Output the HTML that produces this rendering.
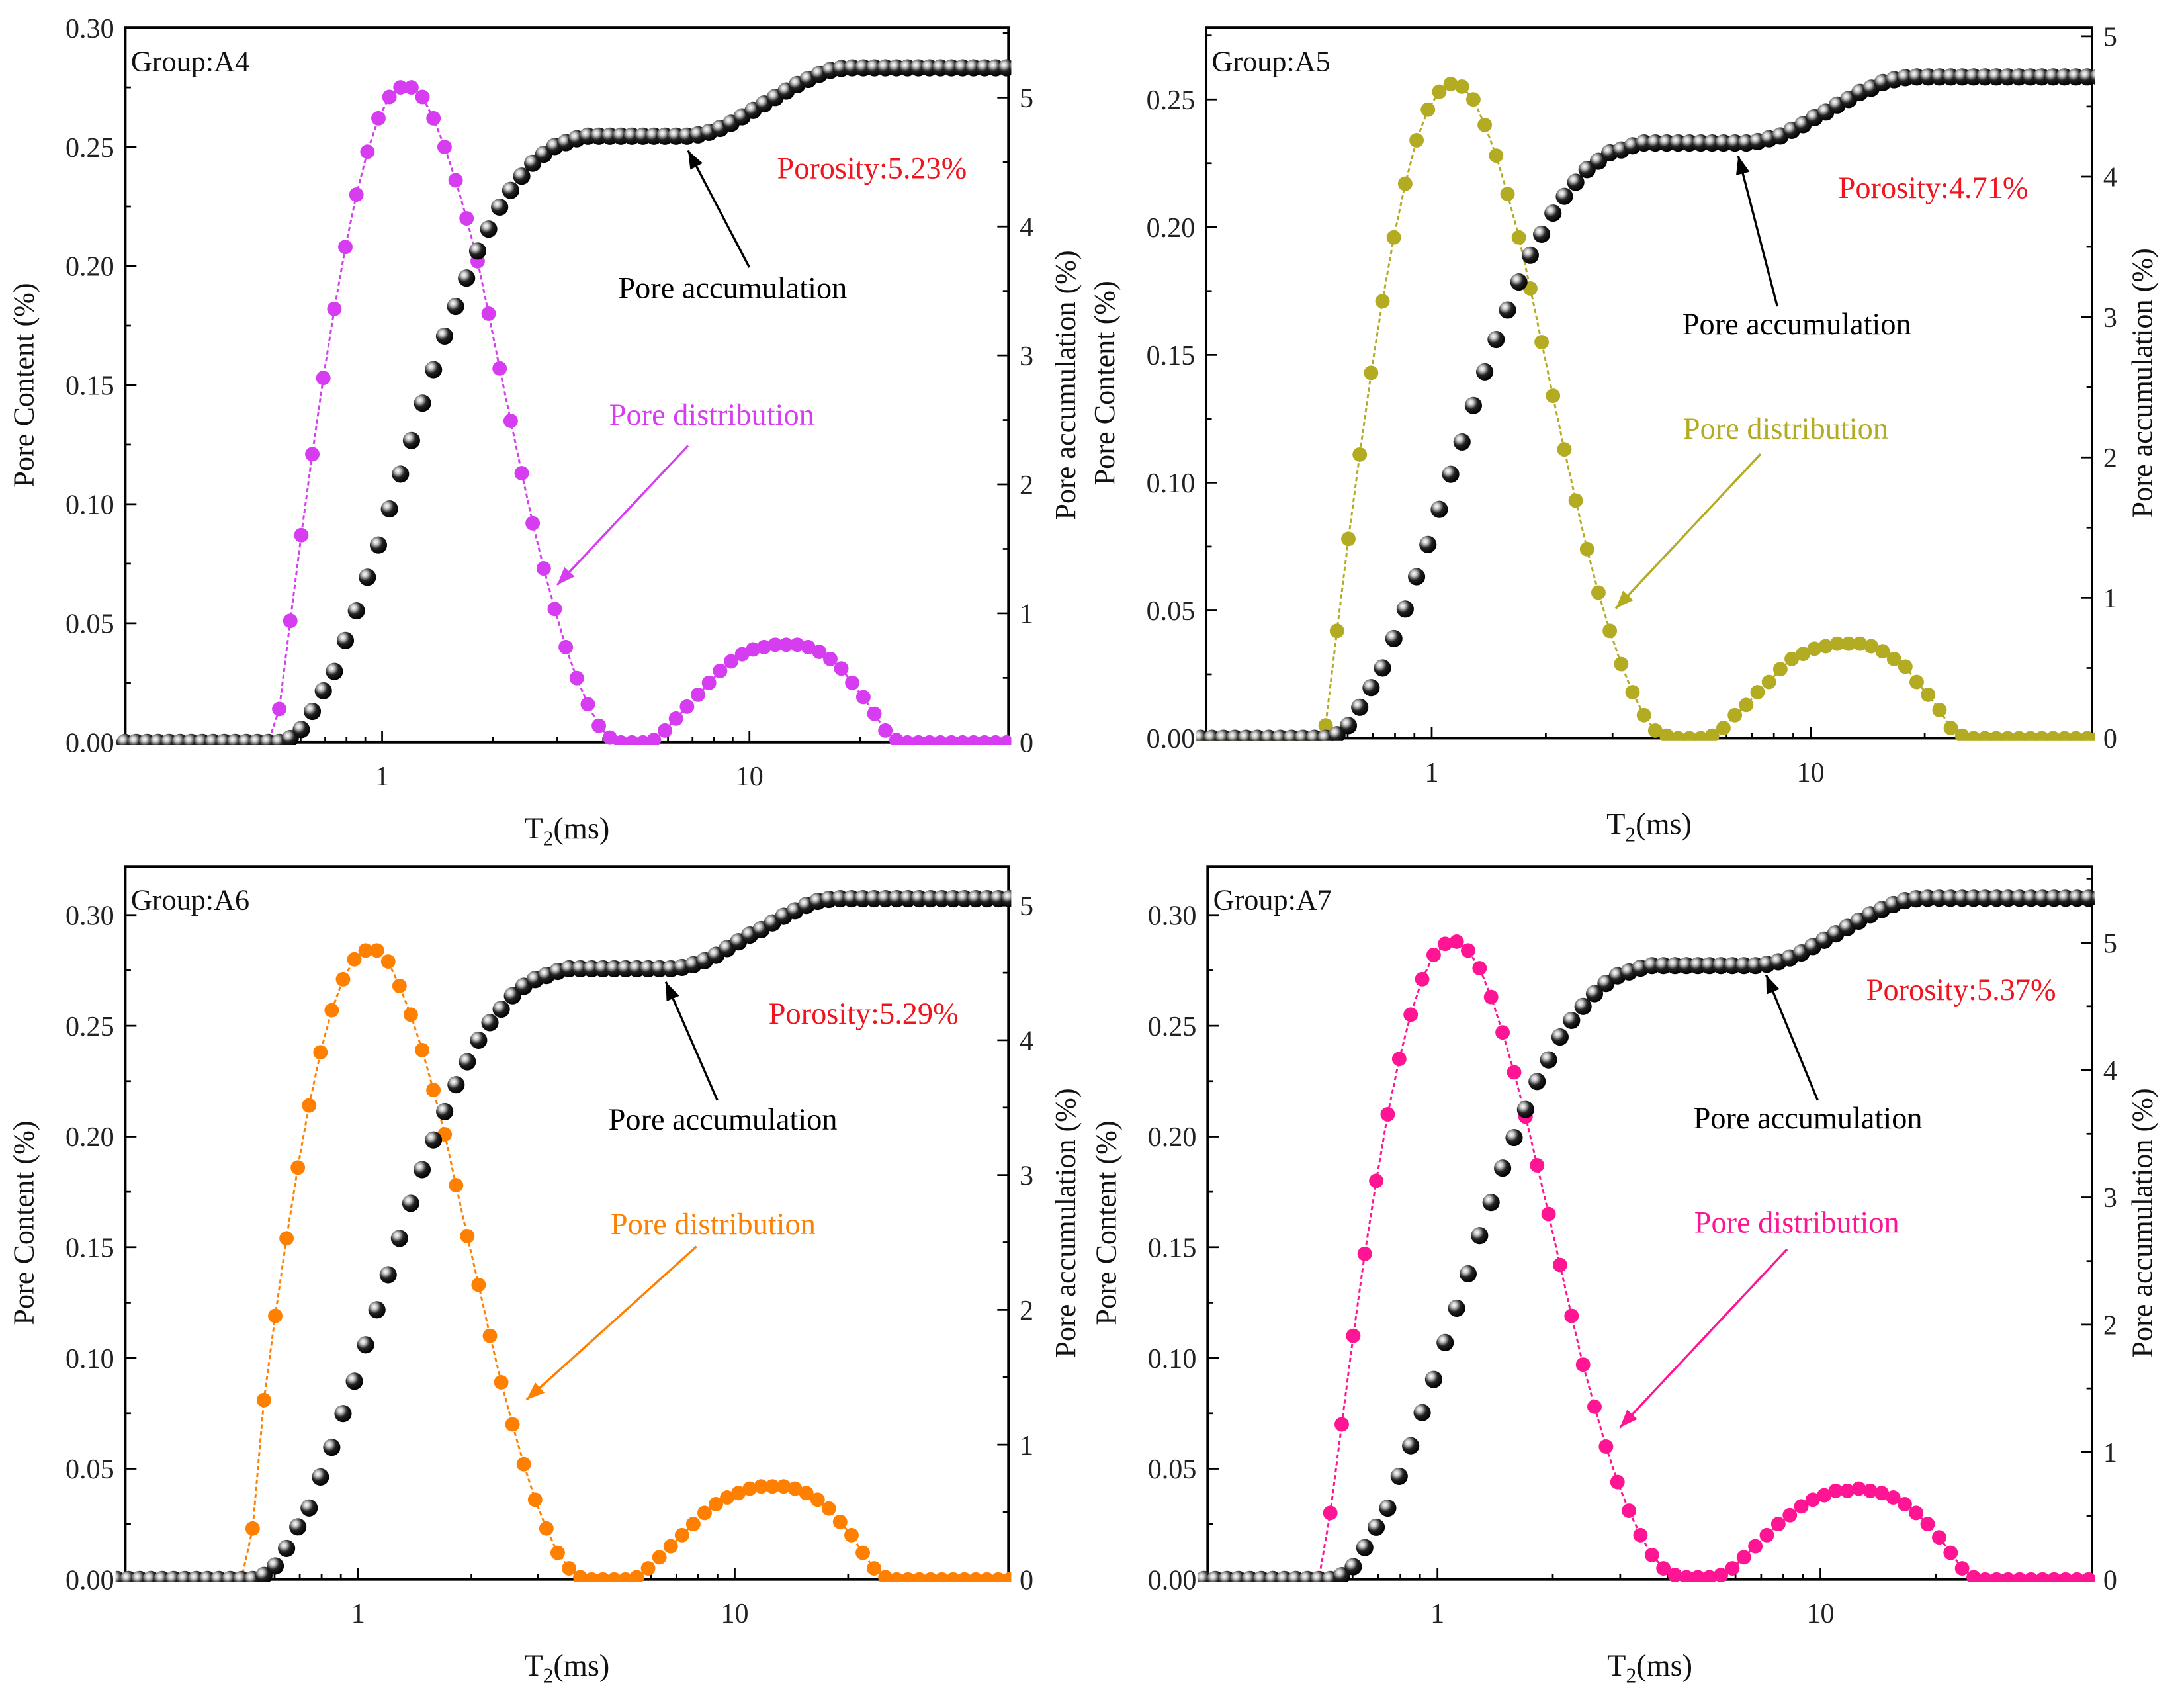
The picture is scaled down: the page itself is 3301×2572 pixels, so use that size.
<!DOCTYPE html>
<html><head><meta charset="utf-8">
<style>
html,body{margin:0;padding:0;background:#fff;}
svg{display:block;}
svg text{font-family:"Liberation Serif","Times New Roman",serif;}
</style></head>
<body>
<svg id="chart" width="3301" height="2572" viewBox="0 0 1568 1222" preserveAspectRatio="none" xmlns="http://www.w3.org/2000/svg" font-family="Liberation Serif, serif">
<defs>
<radialGradient id="ball" cx="0.35" cy="0.32" r="0.7">
<stop offset="0" stop-color="#ffffff"/><stop offset="0.22" stop-color="#c8c8c8"/><stop offset="0.55" stop-color="#222"/><stop offset="1" stop-color="#000"/>
</radialGradient>
</defs>
</svg>
<script>
function rep(v,n){const a=[];for(let i=0;i<n;i++)a.push(v);return a;}
// shared T2 grid (ms)
const t2Grid=[0.1995,0.2138,0.2291,0.2455,0.2630,0.2818,0.3020,0.3236,0.3467,0.3715,0.3981,0.4266,0.4571,0.4898,0.5248,0.5623,0.6026,0.6457,0.6918,0.7413,0.7943,0.8511,0.9120,0.9772,1.047,1.122,1.202,1.288,1.380,1.479,1.585,1.698,1.820,1.950,2.089,2.239,2.399,2.570,2.754,2.951,3.162,3.388,3.631,3.890,4.169,4.467,4.786,5.129,5.495,5.888,6.310,6.761,7.244,7.762,8.318,8.913,9.550,10.23,10.96,11.75,12.59,13.49,14.45,15.49,16.60,17.78,19.05,20.42,21.88,23.44,25.12,26.92,28.84,30.90,33.11,35.48,38.02,40.74,43.65,46.77,50.12,53.70,57.54];
const distA4=[].concat(rep(0,14),[0.014,0.051,0.087,0.121,0.153,0.182,0.208,0.230,0.248,0.262,0.271,0.275,0.275,0.271,0.262,0.250,0.236,0.220,0.202,0.180,0.157,0.135,0.113,0.092,0.073,0.056,0.040,0.027,0.016,0.007,0.002],rep(0,3),[0.001,0.005,0.010,0.015,0.020,0.025,0.030,0.034,0.037,0.039,0.040,0.041,0.041,0.041,0.040,0.038,0.035,0.031,0.025,0.019,0.012,0.005,0.001],rep(0,12));
const distA5=[].concat(rep(0,14),[0.005,0.042,0.078,0.111,0.143,0.171,0.196,0.217,0.234,0.246,0.253,0.256,0.255,0.250,0.240,0.228,0.213,0.196,0.176,0.155,0.134,0.113,0.093,0.074,0.057,0.042,0.029,0.018,0.009,0.003,0.001],rep(0,3),[0.001,0.004,0.009,0.013,0.018,0.022,0.027,0.031,0.033,0.035,0.036,0.037,0.037,0.037,0.036,0.034,0.031,0.028,0.022,0.017,0.011,0.004,0.001],rep(0,12));
const distA6=[].concat(rep(0,14),[0.023,0.081,0.119,0.154,0.186,0.214,0.238,0.257,0.271,0.280,0.284,0.284,0.279,0.268,0.255,0.239,0.221,0.201,0.178,0.155,0.133,0.110,0.089,0.070,0.052,0.036,0.023,0.012,0.005,0.001,0],rep(0,3),[0.001,0.005,0.010,0.015,0.020,0.025,0.030,0.034,0.037,0.039,0.041,0.042,0.042,0.042,0.041,0.039,0.036,0.032,0.026,0.020,0.012,0.005,0.001],rep(0,12));
const distA7=[].concat(rep(0,14),[0.030,0.070,0.110,0.147,0.180,0.210,0.235,0.255,0.271,0.282,0.287,0.288,0.284,0.276,0.263,0.247,0.229,0.209,0.187,0.165,0.142,0.119,0.097,0.078,0.060,0.044,0.031,0.020,0.011,0.005,0.002],[0.001,0.001,0.001],[0.002,0.005,0.010,0.015,0.020,0.025,0.029,0.033,0.036,0.038,0.040,0.040,0.041,0.040,0.039,0.037,0.034,0.030,0.025,0.019,0.012,0.005,0.001],rep(0,12));
const cumA4=[].concat(rep(0,15),[0.03,0.10,0.24,0.40,0.55,0.79,1.02,1.28,1.53,1.81,2.08,2.34,2.63,2.89,3.15,3.38,3.60,3.81,3.98,4.15,4.28,4.39,4.49,4.56,4.62,4.65,4.68],rep(4.70,10),[4.71,4.73,4.76,4.80,4.85,4.90,4.95,5.00,5.05,5.10,5.14,5.18,5.21,5.225,5.23],rep(5.23,16));
const cumA5=[].concat(rep(0,15),[0.025,0.09,0.22,0.36,0.50,0.71,0.92,1.15,1.38,1.63,1.88,2.11,2.37,2.61,2.84,3.05,3.25,3.44,3.59,3.74,3.86,3.96,4.05,4.11,4.17,4.19,4.22],rep(4.24,10),[4.25,4.27,4.29,4.33,4.37,4.42,4.46,4.51,4.55,4.60,4.63,4.67,4.69,4.705,4.71],rep(4.71,16));
const cumA6=[].concat(rep(0,15),[0.03,0.10,0.23,0.39,0.53,0.76,0.98,1.23,1.47,1.74,2.00,2.26,2.53,2.79,3.04,3.26,3.47,3.67,3.84,4.00,4.13,4.23,4.33,4.40,4.45,4.48,4.51],rep(4.53,10),[4.54,4.56,4.59,4.63,4.68,4.73,4.78,4.82,4.87,4.92,4.96,5.00,5.03,5.045,5.05],rep(5.05,16));
const cumA7=[].concat(rep(0,15),[0.03,0.10,0.25,0.41,0.56,0.81,1.05,1.31,1.57,1.86,2.13,2.40,2.70,2.96,3.23,3.47,3.69,3.91,4.08,4.26,4.39,4.50,4.60,4.68,4.74,4.77,4.80],rep(4.82,10),[4.83,4.85,4.88,4.92,4.97,5.02,5.07,5.12,5.17,5.22,5.26,5.30,5.33,5.345,5.35],rep(5.35,16));
const leftTicksA=[0,0.05,0.10,0.15,0.20,0.25,0.30];
const leftTicksB=[0,0.05,0.10,0.15,0.20,0.25];
const rightTicks=[0,1,2,3,4,5];
const xTicks=[1,10];
const xTickLabels=["1","10"];

const panels=[
 {id:"a4",L:90,R:724,T:20,B:533,xmin:0.2,xmax:50.7,ymax:0.30,rmax:5.54,lt:leftTicksA,color:"#d63cf0",dist:distA4,cum:cumA4,group:"Group:A4",por:"Porosity:5.23%",porXY:[626,128],acc:[526,214],accArr:[538,192,494,108],pd:[511,305],pdArr:[494,320,400,420],rlab:765},
 {id:"a5",L:866,R:1502,T:20,B:530,xmin:0.254,xmax:55.3,ymax:0.278,rmax:5.06,lt:leftTicksB,color:"#b3ab22",dist:distA5,cum:cumA5,group:"Group:A5",por:"Porosity:4.71%",porXY:[1388,142],acc:[1290,240],accArr:[1276,220,1248,112],pd:[1282,315],pdArr:[1264,326,1160,437],rlab:1538},
 {id:"a6",L:90,R:724,T:622,B:1134,xmin:0.241,xmax:53.3,ymax:0.322,rmax:5.29,lt:leftTicksA,color:"#ff8000",dist:distA6,cum:cumA6,group:"Group:A6",por:"Porosity:5.29%",porXY:[620,735],acc:[519,811],accArr:[515,790,478,705],pd:[512,886],pdArr:[500,895,378,1005],rlab:765},
 {id:"a7",L:867,R:1502,T:622,B:1134,xmin:0.251,xmax:51.2,ymax:0.322,rmax:5.6,lt:leftTicksA,color:"#ff1493",dist:distA7,cum:cumA7,group:"Group:A7",por:"Porosity:5.37%",porXY:[1408,718],acc:[1298,810],accArr:[1305,790,1268,700],pd:[1290,885],pdArr:[1283,897,1163,1025],rlab:1538}
];
const NS="http://www.w3.org/2000/svg";
const FF='"Liberation Serif", "Times New Roman", serif';
const svg=document.getElementById('chart');
function mk(tag,attrs,parent){const e=document.createElementNS(NS,tag);for(const k in attrs)e.setAttribute(k,attrs[k]);(parent||svg).appendChild(e);return e;}
function txt(s,x,y,attrs,parent){const e=mk('text',Object.assign({x:x,y:y,'font-family':FF},attrs),parent);e.textContent=s;return e;}
function arrow(g,x1,y1,x2,y2,col){
 mk('line',{x1:x1,y1:y1,x2:x2,y2:y2,stroke:col,'stroke-width':1.6},g);
 const a=Math.atan2(y2-y1,x2-x1),l=13,w=5;
 const bx=x2-l*Math.cos(a),by=y2-l*Math.sin(a);
 const px=-Math.sin(a)*w,py=Math.cos(a)*w;
 mk('polygon',{points:`${x2},${y2} ${bx+px},${by+py} ${bx-px},${by-py}`,fill:col},g);
}
panels.forEach(p=>{
 const g=mk('g',{});
 
 
 const lx0=Math.log10(p.xmin),lx1=Math.log10(p.xmax);
 const xs=v=>p.L+(Math.log10(v)-lx0)/(lx1-lx0)*(p.R-p.L);
 const ys=v=>p.B-v/p.ymax*(p.B-p.T);
 const yr=v=>p.B-v/p.rmax*(p.B-p.T);
 const clip=mk('clipPath',{id:'clip-'+p.id},g);
 mk('rect',{x:p.L-7,y:p.T-7,width:p.R-p.L+9,height:p.B-p.T+9},clip);
 const fr=mk('rect',{x:p.L,y:p.T,width:p.R-p.L,height:p.B-p.T,fill:'none',stroke:'#000','stroke-width':1.8},g);
 
 
 const step=0.05;
 for(let v=0;v<=p.ymax+1e-9;v+=step/2){
  const y=ys(v),maj=Math.abs(v/step-Math.round(v/step))<1e-6;
  mk('line',{x1:p.L,y1:y,x2:p.L+(maj?8:4),y2:y,stroke:'#000','stroke-width':1.3},g);
 }
 p.lt.forEach(v=>{const t=txt(v.toFixed(2),p.L-8,ys(v)+7,{'text-anchor':'end','font-size':20,fill:'#222'},g);
  });
 for(let v=0;v<=p.rmax+1e-9;v+=0.5){
  const y=yr(v),maj=Math.abs(v-Math.round(v))<1e-6;
  mk('line',{x1:p.R,y1:y,x2:p.R-(maj?8:4),y2:y,stroke:'#000','stroke-width':1.3},g);
 }
 rightTicks.forEach(v=>{if(v>p.rmax)return;const t=txt(String(v),p.R+8,yr(v)+7,{'font-size':20,fill:'#222'},g);
  });
 for(let d=0.1;d<=100;d*=10){for(let k=1;k<10;k++){const v=d*k;if(v<p.xmin||v>p.xmax)continue;
  mk('line',{x1:xs(v),y1:p.B,x2:xs(v),y2:p.B-(k===1?8:4),stroke:'#000','stroke-width':1.3},g);}}
 xTicks.forEach((v,i)=>{const t=txt(xTickLabels[i],xs(v),p.B+31,{'text-anchor':'middle','font-size':20,fill:'#222'},g);
  });
 const cy=(p.T+p.B)/2,cx=(p.L+p.R)/2;
 const yl=txt('Pore Content (%)',0,0,{'text-anchor':'middle','font-size':21,fill:'#111',transform:`translate(${p.L-66},${cy}) rotate(-90)`},g);
 
 const yr2=txt('Pore accumulation (%)',0,0,{'text-anchor':'middle','font-size':21,fill:'#111',transform:`translate(${p.rlab+7},${cy}) rotate(-90)`},g);
 
 const xt=mk('text',{x:cx,y:p.B+69,'text-anchor':'middle','font-size':22,fill:'#111','font-family':FF},g);
 xt.innerHTML='T<tspan font-size="15" dy="5">2</tspan><tspan dy="-5">(ms)</tspan>';
 
 const sg=mk('g',{'clip-path':`url(#clip-${p.id})`},g);
 let d='';
 t2Grid.forEach((t,i)=>{d+=(i?'L':'M')+xs(t).toFixed(1)+','+ys(p.dist[i]).toFixed(1);});
 const ln=mk('path',{d:d,fill:'none',stroke:p.color,'stroke-width':1.4,'stroke-dasharray':'3,2'},sg);
 
 t2Grid.forEach((t,i)=>{const c=mk('circle',{cx:xs(t),cy:ys(p.dist[i]),r:5.2,fill:p.color},sg);
  });
 t2Grid.forEach((t,i)=>{const c=mk('circle',{cx:xs(t),cy:yr(p.cum[i]),r:6.2,fill:'url(#ball)'},sg);
  });
 const gt=txt(p.group,p.L+4,p.T+31,{'font-size':21,fill:'#111'},g);
 
 const pt=txt(p.por,p.porXY[0],p.porXY[1],{'text-anchor':'middle','font-size':22,fill:'#f0141e'},g);
 
 const at=txt('Pore accumulation',p.acc[0],p.acc[1],{'text-anchor':'middle','font-size':22,fill:'#000'},g);
 
 arrow(g,p.accArr[0],p.accArr[1],p.accArr[2],p.accArr[3],'#000');
 const dt=txt('Pore distribution',p.pd[0],p.pd[1],{'text-anchor':'middle','font-size':22,fill:p.color},g);
 
 arrow(g,p.pdArr[0],p.pdArr[1],p.pdArr[2],p.pdArr[3],p.color);
});
</script>
</body></html>
